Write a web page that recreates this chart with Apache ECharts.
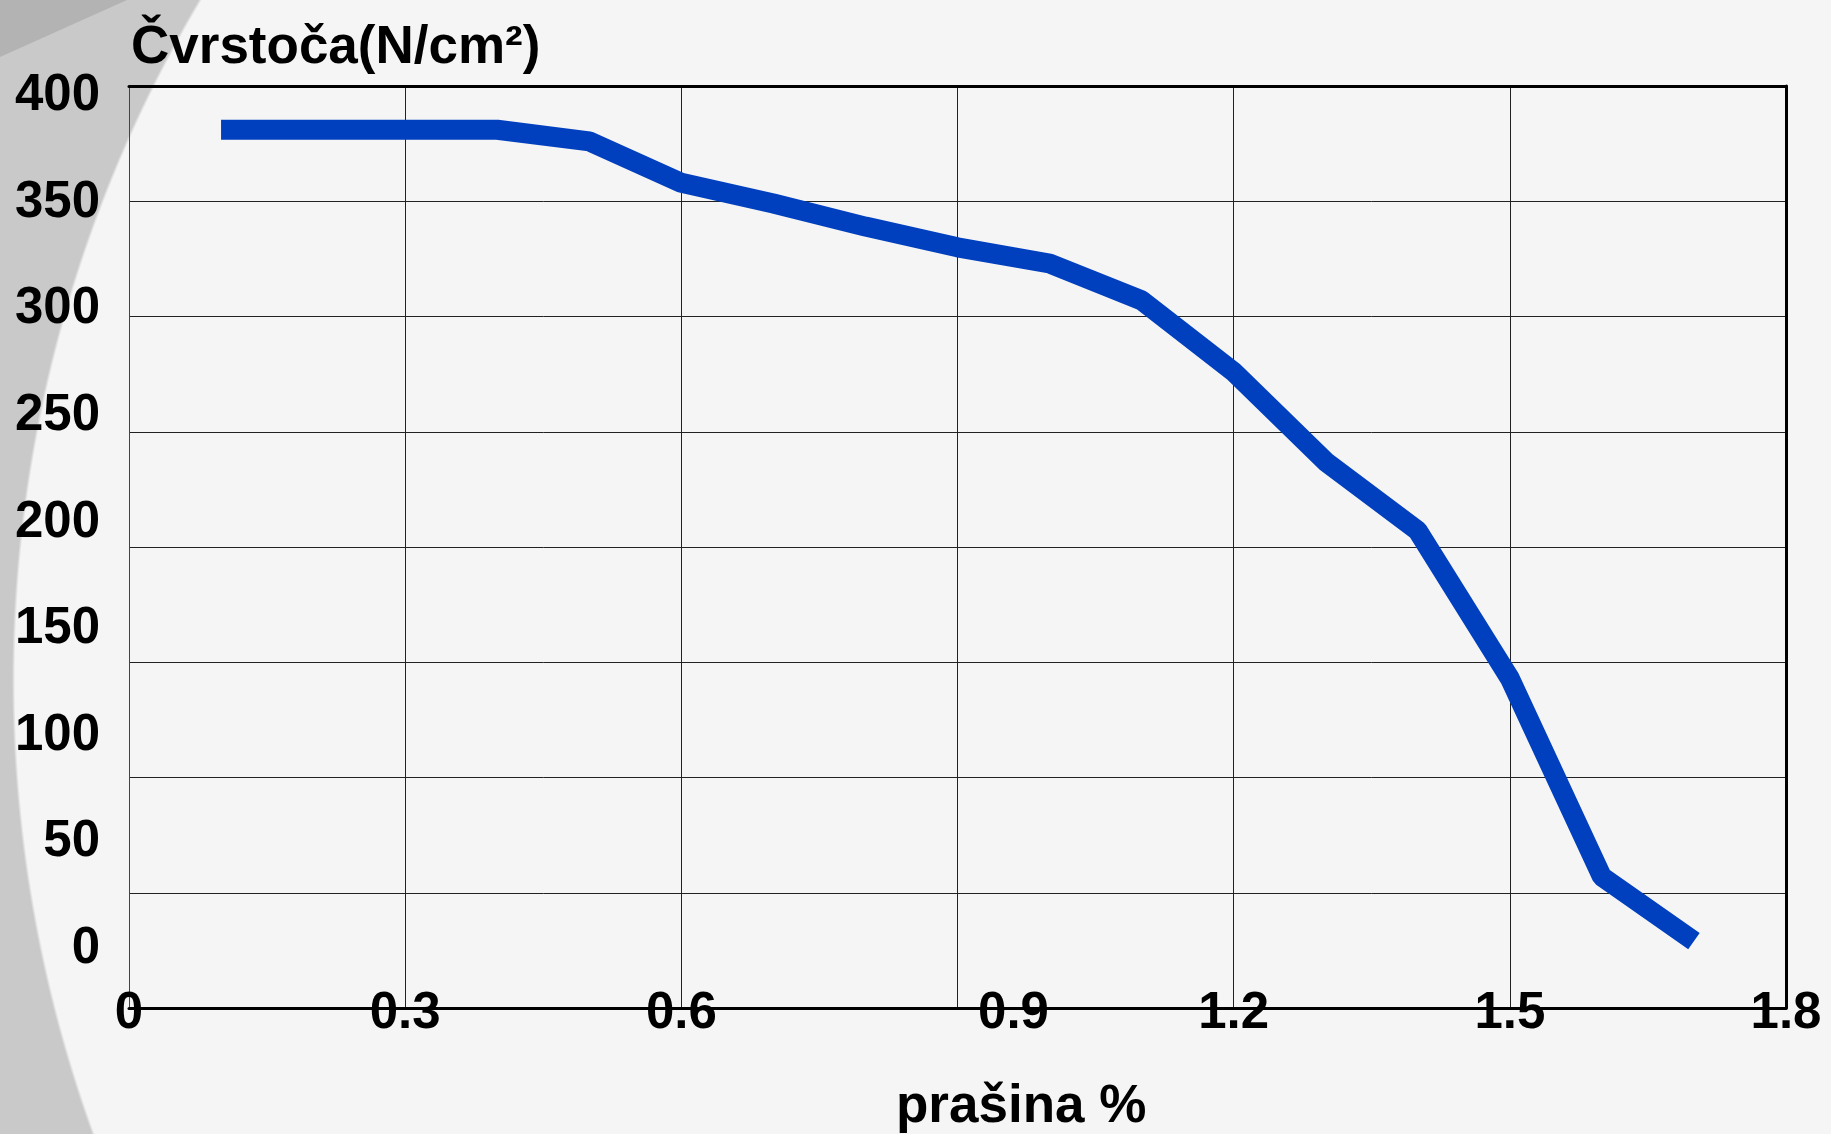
<!DOCTYPE html>
<html>
<head>
<meta charset="utf-8">
<script src="https://cdn.jsdelivr.net/npm/echarts@6/dist/echarts.min.js"></script>
<style>
  html, body { margin: 0; padding: 0; }
  body {
    width: 1831px; height: 1134px; overflow: hidden; position: relative;
    background: radial-gradient(circle 1332px at 1345px 680px, #f5f5f5 1330px, #c9c9c9 1333px);
  }
  .corner {
    position: absolute; left: 0; top: 0; width: 130px; height: 60px;
    background: #b3b3b3; clip-path: polygon(0 0, 127px 0, 0 57px);
  }
  #chart { position: absolute; left: 0; top: 0; width: 1831px; height: 1134px; }
</style>
</head>
<body>
<div class="corner"></div>
<div id="chart"></div>
<script>
// prašina % (x) i čvrstoća N/cm² (y), očitano sa slike
var prasina = [0.1, 0.2, 0.3, 0.4, 0.5, 0.6, 0.7, 0.8, 0.9, 1.0, 1.1, 1.2, 1.3, 1.4, 1.5, 1.6, 1.7]
var cvrstoca = [381, 381, 381, 381, 376, 358, 349, 339, 330, 323, 307, 276, 237, 207, 143, 57, 29]

var xMin = 0, xMax = 1.8, xStep = 0.3
var yMin = 0, yMax = 400, yStep = 50
var yTitle = 'Čvrstoča(N/cm²)'
var xTitle = 'prašina %'

var font = '"Liberation Sans", Arial, sans-serif'
var labelStyle = { fontSize: 51, fontWeight: 'bold', fontFamily: font, color: '#000' }

var myChart = echarts.init(document.getElementById('chart'))

var option = {
  animation: false,
  backgroundColor: 'transparent',
  grid: [
    { left: 129, right: 45, top: 86, bottom: 126 },
    // samo za oznake osi y (u originalu su pomaknute u odnosu na mrežu)
    { left: 129, right: 45, top: 96, bottom: 185 }
  ],
  xAxis: [
    {
      type: 'value', gridIndex: 0, position: 'bottom',
      min: xMin, max: xMax, interval: xStep,
      axisLine: { onZero: false, lineStyle: { color: '#000', width: 3 } },
      axisTick: { show: false },
      splitLine: { show: true, lineStyle: { color: '#222', width: 1 } },
      axisLabel: Object.assign({
        margin: 6,
        verticalAlign: 'middle',
        showMinLabel: true,
        showMaxLabel: true,
        formatter: function (v) {
          var s = String(Math.round(v * 10) / 10)
          return Math.abs(v - 0.9) < 1e-6 ? '{off|' + s + '}' : s
        },
        rich: {
          off: Object.assign({ padding: [0, 0, 0, 112] }, labelStyle)
        }
      }, labelStyle)
    },
    {
      type: 'value', gridIndex: 0, position: 'top',
      min: xMin, max: xMax, interval: xStep,
      axisLine: { onZero: false, lineStyle: { color: '#000', width: 3 } },
      axisTick: { show: false },
      axisLabel: { show: false },
      splitLine: { show: false }
    },
    {
      type: 'value', gridIndex: 1, show: false, min: xMin, max: xMax
    }
  ],
  yAxis: [
    {
      type: 'value', gridIndex: 0, position: 'left',
      min: yMin, max: yMax, interval: yStep,
      axisLine: { show: true, onZero: false, lineStyle: { color: '#444', width: 1 } },
      axisTick: { show: false },
      axisLabel: { show: false },
      splitLine: { show: true, lineStyle: { color: '#222', width: 1 } }
    },
    {
      type: 'value', gridIndex: 0, position: 'right',
      min: yMin, max: yMax, interval: yStep,
      axisLine: { show: true, onZero: false, lineStyle: { color: '#000', width: 3 } },
      axisTick: { show: false },
      axisLabel: { show: false },
      splitLine: { show: false }
    },
    {
      type: 'value', gridIndex: 1, position: 'left',
      min: yMin, max: yMax, interval: yStep,
      axisLine: { show: false },
      axisTick: { show: false },
      splitLine: { show: false },
      axisLabel: Object.assign({ margin: 29 }, labelStyle)
    }
  ],
  graphic: [
    {
      type: 'text', x: 131, y: 48,
      style: {
        text: yTitle, font: 'bold 53px ' + font, fill: '#000',
        textAlign: 'left', textVerticalAlign: 'middle', align: 'left', verticalAlign: 'middle'
      }
    },
    {
      type: 'text', x: 896, y: 1107,
      style: {
        text: xTitle, font: 'bold 53px ' + font, fill: '#000',
        textAlign: 'left', textVerticalAlign: 'middle', align: 'left', verticalAlign: 'middle'
      }
    }
  ],
  series: [
    {
      name: yTitle,
      type: 'line',
      xAxisIndex: 0,
      yAxisIndex: 0,
      showSymbol: false,
      symbol: 'none',
      lineStyle: { color: '#0040bf', width: 20, cap: 'butt', join: 'bevel' },
      itemStyle: { color: '#0040bf' },
      data: prasina.map(function (x, i) { return [x, cvrstoca[i]] })
    }
  ]
}
myChart.setOption(option)
</script>
</body>
</html>
